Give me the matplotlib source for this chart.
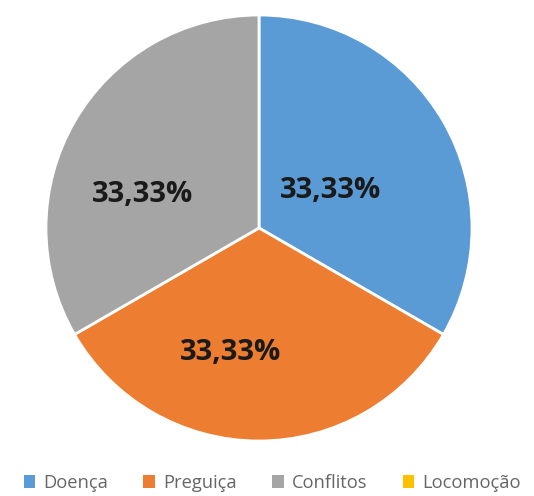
import matplotlib.pyplot as plt
from matplotlib.patches import Patch
import numpy as np

categories = ["Doença", "Preguiça", "Conflitos", "Locomoção"]
values = [1, 1, 1, 0]
labels_txt = ["33,33%", "33,33%", "33,33%", ""]
colors = ["#5B9BD5", "#ED7D31", "#A5A5A5", "#FFC000"]
# label placement inside each wedge: distance (fraction of radius), angle in degrees
label_dist = [0.38, 0.60, 0.57]
label_ang = [28, 257, 164]

fig = plt.figure(figsize=(5.34, 4.96), dpi=100)
ax = fig.add_axes([(259 - 213) / 534, (268 - 213) / 496, 426 / 534, 426 / 496])

shown = [v for v in values if v > 0]
wedges, _ = ax.pie(shown, colors=colors[:len(shown)], startangle=90, counterclock=False,
                   wedgeprops=dict(edgecolor="white", linewidth=2))

for txt, d, a in zip(labels_txt, label_dist, label_ang):
    t = np.deg2rad(a)
    ax.text(d * np.cos(t), d * np.sin(t), txt, ha="center", va="center",
            fontsize=21, fontweight="bold", color="#1a1a1a", family="Open Sans")

ax.set_xlim(-1, 1)
ax.set_ylim(-1, 1)
ax.axis("off")

handles = [Patch(facecolor=c, edgecolor="none") for c in colors]
fig.legend(handles, categories, loc="center", ncol=4, frameon=False,
           bbox_to_anchor=(0.51, 13 / 496), handlelength=0.65, handleheight=0.65,
           handletextpad=0.45, columnspacing=1.9, borderaxespad=0, borderpad=0,
           prop=dict(family="Open Sans", size=13.2), labelcolor="#666666")

fig.savefig("out.png", dpi=100)
